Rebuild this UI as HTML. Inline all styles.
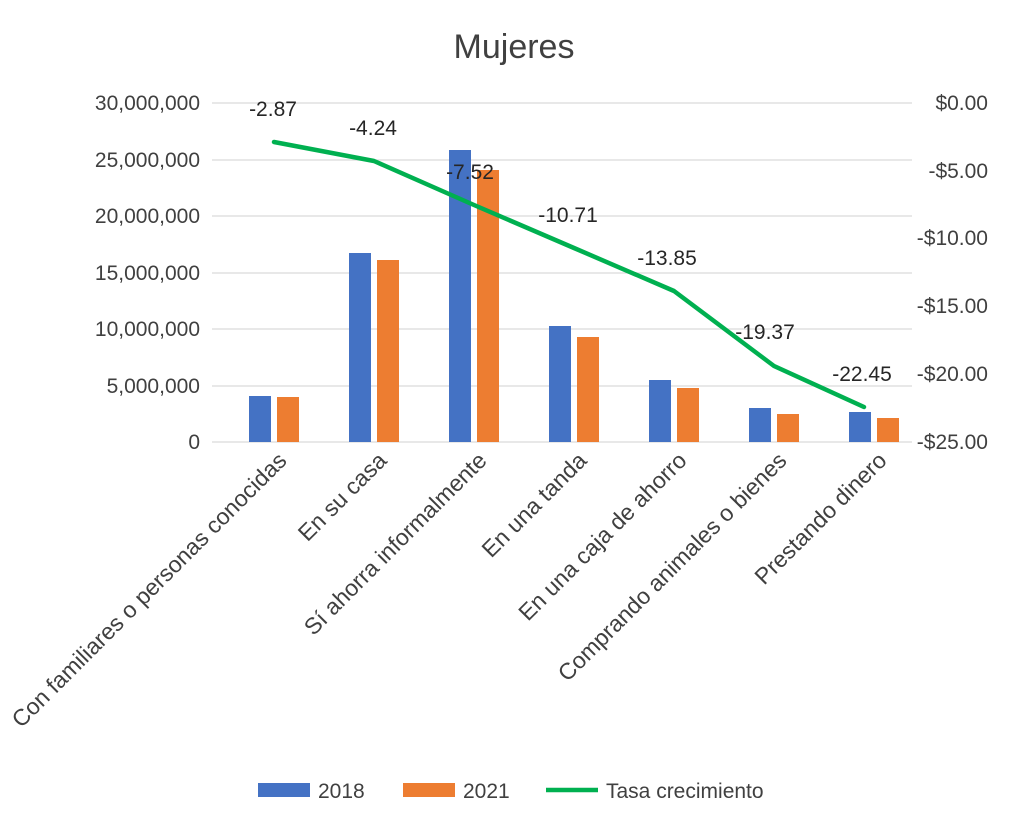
<!DOCTYPE html>
<html><head><meta charset="utf-8"><style>
html,body{margin:0;padding:0;background:#fff;}
svg{display:block;font-family:"Liberation Sans",Arial,sans-serif;}
</style></head><body>
<svg width="1024" height="816" viewBox="0 0 1024 816" xmlns="http://www.w3.org/2000/svg">
<rect width="1024" height="816" fill="#fff"/>
<text x="514" y="58" text-anchor="middle" font-size="34" fill="#404040">Mujeres</text>
<g stroke="#d9d9d9" stroke-width="1.3">
<line x1="212" y1="103" x2="912" y2="103"/>
<line x1="212" y1="160" x2="912" y2="160"/>
<line x1="212" y1="216" x2="912" y2="216"/>
<line x1="212" y1="273" x2="912" y2="273"/>
<line x1="212" y1="329" x2="912" y2="329"/>
<line x1="212" y1="386" x2="912" y2="386"/>
<line x1="212" y1="442" x2="912" y2="442"/>
</g>
<g font-size="21" fill="#404040" text-anchor="end">
<text x="200" y="110">30,000,000</text>
<text x="200" y="167">25,000,000</text>
<text x="200" y="223">20,000,000</text>
<text x="200" y="280">15,000,000</text>
<text x="200" y="336">10,000,000</text>
<text x="200" y="393">5,000,000</text>
<text x="200" y="449">0</text>
</g>
<g font-size="21" fill="#404040" text-anchor="end">
<text x="988" y="110">$0.00</text>
<text x="988" y="178">-$5.00</text>
<text x="988" y="245">-$10.00</text>
<text x="988" y="313">-$15.00</text>
<text x="988" y="381">-$20.00</text>
<text x="988" y="449">-$25.00</text>
</g>
<g fill="#4472c4">
<rect x="249" y="396" width="22" height="46"/>
<rect x="349" y="253" width="22" height="189"/>
<rect x="449" y="150" width="22" height="292"/>
<rect x="549" y="326" width="22" height="116"/>
<rect x="649" y="380" width="22" height="62"/>
<rect x="749" y="408" width="22" height="34"/>
<rect x="849" y="412" width="22" height="30"/>
</g>
<g fill="#ed7d31">
<rect x="277" y="397" width="22" height="45"/>
<rect x="377" y="260" width="22" height="182"/>
<rect x="477" y="170" width="22" height="272"/>
<rect x="577" y="337" width="22" height="105"/>
<rect x="677" y="388" width="22" height="54"/>
<rect x="777" y="414" width="22" height="28"/>
<rect x="877" y="418" width="22" height="24"/>
</g>
<polyline points="274,142 374,161 474,205 574,248 674,291 774,366 864,407" fill="none" stroke="#00b050" stroke-width="4.5" stroke-linejoin="round" stroke-linecap="round"/>
<g font-size="21" fill="#262626" text-anchor="middle">
<text x="273" y="116">-2.87</text>
<text x="373" y="135">-4.24</text>
<text x="470" y="179">-7.52</text>
<text x="568" y="222">-10.71</text>
<text x="667" y="265">-13.85</text>
<text x="765" y="339">-19.37</text>
<text x="862" y="381">-22.45</text>
</g>
<g font-size="23" fill="#404040" text-anchor="end">
<text transform="translate(288,462) rotate(-45)">Con familiares o personas conocidas</text>
<text transform="translate(388,462) rotate(-45)">En su casa</text>
<text transform="translate(488,462) rotate(-45)">Sí ahorra informalmente</text>
<text transform="translate(588,462) rotate(-45)">En una tanda</text>
<text transform="translate(688,462) rotate(-45)">En una caja de ahorro</text>
<text transform="translate(788,462) rotate(-45)">Comprando animales o bienes</text>
<text transform="translate(888,462) rotate(-45)">Prestando dinero</text>
</g>
<rect x="258" y="783" width="52" height="14" fill="#4472c4"/>
<text x="318" y="798" font-size="21" fill="#404040">2018</text>
<rect x="403" y="783" width="52" height="14" fill="#ed7d31"/>
<text x="463" y="798" font-size="21" fill="#404040">2021</text>
<line x1="546" y1="790" x2="598" y2="790" stroke="#00b050" stroke-width="4.5"/>
<text x="606" y="798" font-size="21" fill="#404040">Tasa crecimiento</text>
</svg>
</body></html>
